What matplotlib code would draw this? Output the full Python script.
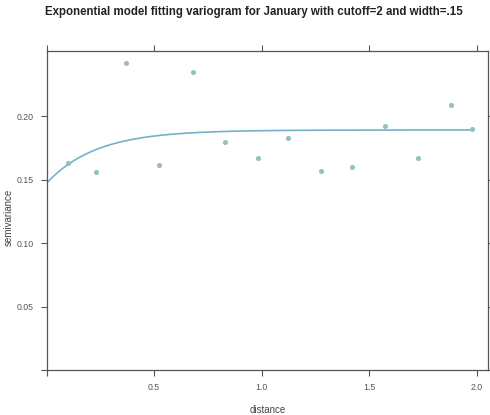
import numpy as np
import matplotlib
matplotlib.use("Agg")
import matplotlib.pyplot as plt

# semivariogram estimado (distancia, semivarianza)
distancia = [0.101, 0.230, 0.370, 0.523, 0.680, 0.832, 0.982,
             1.125, 1.277, 1.422, 1.573, 1.729, 1.880, 1.978]
semivarianza = [0.1632, 0.1556, 0.2415, 0.1612, 0.2349, 0.1798, 0.1667,
                0.1829, 0.1570, 0.1601, 0.1924, 0.1667, 0.2084, 0.1895]

# modelo exponencial ajustado
pepita = 0.147
meseta_parcial = 0.042
rango = 0.23
dist_max = 1.98

xticks = [0, 0.5, 1.0, 1.5, 2.0]
xticklabels = ["", "0.5", "1.0", "1.5", "2.0"]
yticks = [0, 0.05, 0.10, 0.15, 0.20]
yticklabels = ["", "0.05", "0.10", "0.15", "0.20"]

plt.rcParams['font.family'] = ['Liberation Sans', 'DejaVu Sans']

fig = plt.figure(figsize=(4.9, 4.15), dpi=100)
ax = fig.add_axes([46.5 / 490, 45 / 415, 441.5 / 490, 319 / 415])

h = np.linspace(0, dist_max, 300)
gamma = pepita + meseta_parcial * (1 - np.exp(-h / rango))
ax.plot(h, gamma, color='#74b2cb', linewidth=1.2)
ax.scatter(distancia, semivarianza, s=7, color='#97bfc3', zorder=3)

ax.set_xlim(0, 2.053)
ax.set_ylim(0, 0.2512)
ax.set_xticks(xticks)
ax.set_xticklabels(xticklabels)
ax.set_yticks(yticks)
ax.set_yticklabels(yticklabels)
ax.tick_params(direction='out', length=4, width=0.8, colors='#555555',
               labelsize=6.3, top=True, right=True, pad=5)
for s in ax.spines.values():
    s.set_color('#555555')
    s.set_linewidth(0.9)

ax.set_xlabel('distance', fontsize=7, color='#444444', labelpad=10)
ax.set_ylabel('semivariance', fontsize=7, color='#444444')
ax.yaxis.set_label_coords(-0.075, 0.48)
ax.set_title('Exponential model fitting variogram for January with cutoff=2 and width=.15',
             fontsize=8.3, fontweight='bold', color='#222222', pad=26, x=0.47)

fig.savefig('out.png', dpi=100)
